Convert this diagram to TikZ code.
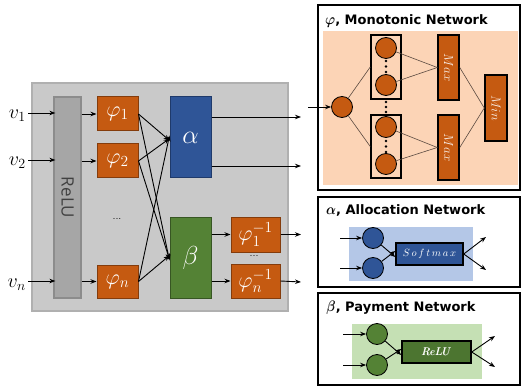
\RequirePackage{fix-cm}
\documentclass[tikz,border=0pt]{standalone}
\usepackage{fontspec}
\usetikzlibrary{arrows.meta,calc}
\newfontfamily\headfont{DejaVu Sans}
\newfontfamily\barfont{Open Sans}
% heavier math letter for the panel headings
\newcommand\heavysym[1]{\rlap{$#1$}\kern0.45pt$#1$}

\definecolor{orng}{HTML}{C55A11}
\definecolor{orngdk}{HTML}{843C0C}
\definecolor{blu}{HTML}{2F5597}
\definecolor{bludk}{HTML}{1F3A6B}
\definecolor{grn}{HTML}{548235}
\definecolor{grndk}{HTML}{375623}
\definecolor{panelgray}{HTML}{C9C9C9}
\definecolor{panelgrayln}{HTML}{B0B0B0}
\definecolor{relugray}{HTML}{A6A6A6}
\definecolor{relugrayln}{HTML}{8C8C8C}
\definecolor{peach}{HTML}{FCD4B6}
\definecolor{lightblu}{HTML}{B4C7E7}
\definecolor{lightgrn}{HTML}{C5E0B4}
\definecolor{wireln}{HTML}{5A4A40}

\tikzset{
  arr/.style={-{Stealth[length=6pt,width=4.5pt]}, line width=0.9pt},
  blockbase/.style={rectangle, inner sep=0pt, text=white, line width=1pt},
  phibox/.style={blockbase, fill=orng, draw=orngdk, minimum width=41pt, font=\fontsize{22}{22}\selectfont},
  invbox/.style={blockbase, fill=orng, draw=orngdk, minimum width=49pt, minimum height=35pt, font=\fontsize{22}{22}\selectfont},
  neuron/.style={circle, minimum size=21pt, inner sep=0pt, draw=black, line width=0.8pt},
  opbox/.style={rectangle, inner sep=0pt, draw=black, line width=1.5pt, text=white},
  panelframe/.style={draw=black, line width=2pt, fill=white},
  wire/.style={draw=wireln, line width=0.6pt},
  paneltitle/.style={anchor=west, inner sep=0pt, font=\headfont\bfseries\fontsize{13}{13}\selectfont},
  vlabel/.style={anchor=base east, inner sep=0pt, font=\fontsize{20}{20}\selectfont},
  dotsnode/.style={inner sep=0pt, font=\fontsize{11}{11}\selectfont},
  rottext/.style={inner sep=0pt, rotate=-90, text=white!92!orng, font=\fontsize{13}{13}\selectfont}
}

\begin{document}
\begin{tikzpicture}[x=1pt,y=-1pt]
\useasboundingbox (0,0) rectangle (521,387);

% ---------------- main architecture ----------------
\node[rectangle, fill=panelgray, draw=panelgrayln, line width=1.5pt,
      minimum width=256pt, minimum height=228pt, inner sep=0pt] (main) at (160,197) {};

\node[rectangle, fill=relugray, draw=relugrayln, line width=1.2pt, inner sep=0pt,
      minimum width=27pt, minimum height=201pt] (relu) at (67.5,197.5) {};
\node[rotate=-90, text=black!75, font=\barfont\fontsize{17}{17}\selectfont] (relutxt) at (67.5,197.5) {ReLU};

\node[vlabel] (v1) at (26,119) {$v_1$};
\node[vlabel] (v2) at (26,166) {$v_2$};
\node[vlabel] (vn) at (26,287) {$v_n$};

\node[phibox, minimum height=34pt] (p1) at (117.5,114) {$\varphi_1$};
\node[phibox, minimum height=34pt] (p2) at (117.5,161) {$\varphi_2$};
\node[phibox, minimum height=33pt] (pn) at (117.5,281.5) {$\varphi_n$};
\node[dotsnode] (pdots) at (117,219) {...};

\node[blockbase, fill=blu, draw=bludk, minimum width=41pt, minimum height=81pt,
      font=\fontsize{26}{26}\selectfont] (alpha) at (190.5,137.5) {$\alpha$};
\node[blockbase, fill=grn, draw=grndk, minimum width=41pt, minimum height=81pt,
      font=\fontsize{26}{26}\selectfont] (beta) at (190.5,257.5) {$\beta$};

\node[invbox] (q1) at (255.5,234.5) {$\varphi_1^{-1}$};
\node[invbox, minimum height=34pt] (qn) at (255.5,281) {$\varphi_n^{-1}$};
\node[dotsnode] (qdots) at (254,256) {...};

\coordinate (aout1) at (301,117);
\coordinate (aout2) at (301,166);
\coordinate (bout1) at (301,234.5);
\coordinate (bout2) at (301,282);

% inputs into the ReLU layer and on to the monotonic units
\foreach \v/\p in {v1/p1, v2/p2, vn/pn}{
  \draw[arr] ([shift={(2,-6)}]\v.base east) -- ([shift={(2,-6)}]\v.base east -| relu.west);
  \draw[arr] (relu.east |- \p.west) -- (\p.west);
}

% monotonic units feed both networks
\draw[arr] (p1.east) -- ([yshift=-3pt]alpha.west);
\draw[arr] (p2.east) -- ([yshift=-1pt]alpha.west);
\draw[arr] (pn.east) -- ([yshift=2pt]alpha.west);
\draw[arr] (p1.east) -- ([yshift=-3pt]beta.west);
\draw[arr] (p2.east) -- ([yshift=-2pt]beta.west);
\draw[arr] (pn.east) -- ([yshift=2pt]beta.west);

% outputs
\draw[arr] (alpha.east |- aout1) -- (aout1);
\draw[arr] (alpha.east |- aout2) -- (aout2);
\draw[arr] (beta.east |- q1.west) -- (q1.west);
\draw[arr] (beta.east |- qn.west) -- (qn.west);
\draw[arr] (q1.east) -- (bout1);
\draw[arr] (qn.east) -- (bout2);

% ---------------- monotonic network panel ----------------
\node[panelframe, minimum width=202pt, minimum height=185pt, inner sep=0pt] (mframe) at (419,97.5) {};
\node[paneltitle] (mtitle) at (325,21) {{\fontsize{15}{15}\selectfont\heavysym{\varphi}}, Monotonic Network};
\node[rectangle, fill=peach, inner sep=0pt, minimum width=195pt, minimum height=154pt] (marea) at (420.5,108) {};

\node[neuron, fill=orng] (m0) at (342,107) {};
\node[rectangle, draw=black, line width=1.5pt, inner sep=0pt, minimum width=30pt, minimum height=64pt] (g1) at (386,67) {};
\node[rectangle, draw=black, line width=1.5pt, inner sep=0pt, minimum width=30pt, minimum height=63pt] (g2) at (386,146.5) {};
\node[neuron, fill=orng] (c1) at (386,48) {};
\node[neuron, fill=orng] (c2) at (386,85) {};
\node[neuron, fill=orng] (c3) at (386,127) {};
\node[neuron, fill=orng] (c4) at (386,164) {};
% vertical ellipses between the units
\foreach \y in {61,66.5,72, 102,107,112, 141,146.5,152}
  \fill (386,\y) circle (1.3pt);

\node[opbox, fill=orng, minimum width=21pt, minimum height=65pt] (max1) at (448.5,67.5) {};
\node[opbox, fill=orng, minimum width=21pt, minimum height=65pt] (max2) at (448.5,147.5) {};
\node[opbox, fill=orng, minimum width=22pt, minimum height=66pt] (minbox) at (496,108) {};
\node[rottext] (max1txt) at (max1) {$Max$};
\node[rottext] (max2txt) at (max2) {$Max$};
\node[rottext] (mintxt) at (minbox) {$Min$};

\coordinate (monoin) at (308,107);
\draw[arr] (monoin) -- (m0.west);
\draw[wire] (m0) -- (g1.west);
\draw[wire] (m0) -- (g2.west);
\draw[wire] (c1) -- (max1.west);
\draw[wire] (c2) -- (max1.west);
\draw[wire] (c3) -- (max2.west);
\draw[wire] (c4) -- (max2.west);
\draw[wire] (max1.east) -- (minbox.west);
\draw[wire] (max2.east) -- (minbox.west);

% ---------------- allocation network panel ----------------
\node[panelframe, minimum width=202pt, minimum height=90pt, inner sep=0pt] (aframe) at (419,242) {};
\node[paneltitle] (atitle) at (326,210.5) {{\fontsize{15}{15}\selectfont\heavysym{\alpha}}, Allocation Network};
\node[rectangle, fill=lightblu, inner sep=0pt, minimum width=124pt, minimum height=54pt] (aarea) at (411,254) {};
\node[neuron, fill=blu] (a1) at (373,238) {};
\node[neuron, fill=blu] (a2) at (373,268) {};
\node[opbox, fill=blu, minimum width=67pt, minimum height=22pt,
      font=\fontsize{10.5}{10.5}\selectfont] (soft) at (429.5,254) {$S\,o\,f\,t\,m\,a\,x$};
\coordinate (ain1) at (340,238);
\coordinate (ain2) at (340,268);
\coordinate (aend1) at (486,237);
\coordinate (aend2) at (486,270);
\draw[arr] (ain1) -- (a1.west);
\draw[arr] (ain2) -- (a2.west);
\draw[arr] (a1) -- ([yshift=-3pt]soft.west);
\draw[arr] (a2) -- ([yshift=3pt]soft.west);
\draw[arr] (soft.east) -- (aend1);
\draw[arr] (soft.east) -- (aend2);

% ---------------- payment network panel ----------------
\node[panelframe, minimum width=202pt, minimum height=92pt, inner sep=0pt] (bframe) at (419,339) {};
\node[paneltitle] (btitle) at (326,308) {{\fontsize{15}{15}\selectfont\heavysym{\beta}}, Payment Network};
\node[rectangle, fill=lightgrn, inner sep=0pt, minimum width=130pt, minimum height=55pt] (barea) at (417,351.5) {};
\node[neuron, fill=grn] (b1) at (377,334) {};
\node[neuron, fill=grn] (b2) at (377,365) {};
\node[opbox, fill=grn!90!black, minimum width=69pt, minimum height=22pt,
      font=\fontsize{11}{11}\selectfont] (brelu) at (436.5,352) {\heavysym{ReLU}};
\coordinate (bin1) at (343,334);
\coordinate (bin2) at (343,365);
\coordinate (bend1) at (495,336);
\coordinate (bend2) at (495,367);
\draw[arr] (bin1) -- (b1.west);
\draw[arr] (bin2) -- (b2.west);
\draw[arr] (b1) -- ([yshift=-3pt]brelu.west);
\draw[arr] (b2) -- ([yshift=3pt]brelu.west);
\draw[arr] (brelu.east) -- (bend1);
\draw[arr] (brelu.east) -- (bend2);

\end{tikzpicture}
\end{document}
